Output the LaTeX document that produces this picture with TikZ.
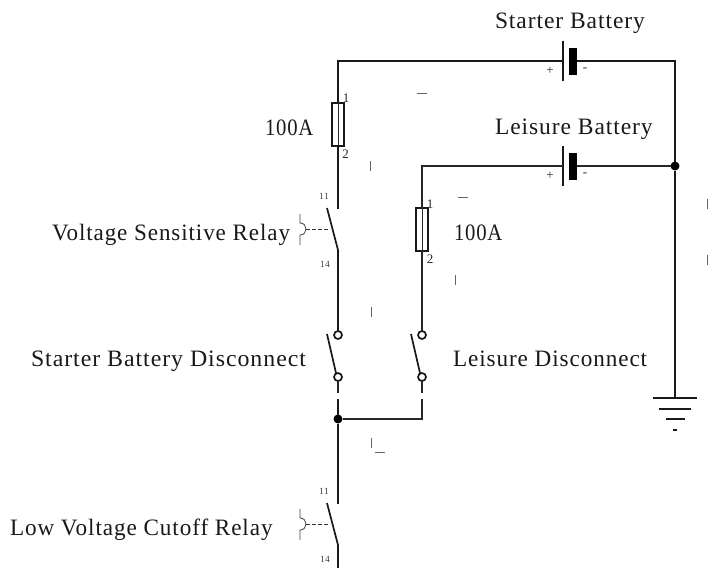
\documentclass[tikz,border=0pt]{standalone}
\usepackage{fontspec}
\setmainfont[LetterSpace=4]{Liberation Serif}
\usetikzlibrary{positioning,calc}

\begin{document}
\begin{tikzpicture}[x=1pt,y=1pt]
    \useasboundingbox (0,0) rectangle (709,-573);
    \tikzstyle{every node}=[inner sep=0,outer sep=0]
    \tikzstyle{label} = [anchor=base west,font=\fontsize{23.5}{25}\selectfont,text=black!90]
    \tikzstyle{pin} = [font=\fontsize{9.5}{10}\selectfont,text=black!75]
    \tikzstyle{pinbig} = [font=\fontsize{13}{14}\selectfont,text=black!85]
    \tikzstyle{wire} = [line width=2.2,black!90]
    \tikzstyle{wirethin} = [line width=1.8,black!85]
    \tikzstyle{blade} = [line width=1.7,black!90]
    \tikzstyle{fuse} = [draw=black!90,line width=1.6,minimum width=12.5,minimum height=43,fill=none]
    \tikzstyle{term} = [circle,draw=black!90,line width=1.7,fill=white,minimum size=8]
    \tikzstyle{dot} = [circle,fill=black,minimum size=9]
    \tikzstyle{plate} = [draw=none,fill=black,minimum width=8,minimum height=27]
    \tikzstyle{stray} = [line width=0.7,black!60]
    \tikzstyle{hook} = [line width=0.8,black!75]

    % feed wires
    \coordinate (corner1) at (338,-61);
    \coordinate (corner2) at (422,-166);
    \coordinate (corner3) at (675,-61);
    \node[fuse] (fuse1) at (338,-124.5) {};
    \node[fuse] (fuse2) at (422,-229.5) {};
    \node[dot] (join1) at (675,-166) {};
    \node[dot] (join2) at (338,-419) {};

    % batteries
    \foreach \name/\y in {bat1/-61,bat2/-166} {
        \coordinate (\name thin) at (563,\y);
        \node[plate] (\name) at (573,\y) {};
        \draw[line width=1.6,black!90] ($(\name thin)+(0,20)$) -- ($(\name thin)+(0,-20)$);
        \node[pinbig] at ($(\name thin)+(-13,-10)$) {+};
        \node[pinbig] at ($(\name thin)+(22,-9)$) {-};
    }
    \draw[wire] (bat1thin) -- (corner1) -- (fuse1.north);
    \draw[wire] (bat1.east) -- (corner3) -- (join1);
    \draw[wirethin] (bat2thin) -- (corner2) -- (fuse2.north);
    \draw[wirethin] (bat2.east) -- (join1);
    \draw[line width=1,black!85] (fuse1.north) -- (fuse1.south);
    \draw[line width=1,black!85] (fuse2.north) -- (fuse2.south);

    % relay contacts
    \foreach \name/\y in {relay1/-209,relay2/-504} {
        \coordinate (\name a) at (338,\y);
        \coordinate (\name b) at (338,\y-41);
        \coordinate (\name c) at (327,\y+1);
        \coordinate (\name d) at (330,\y-20);
        \coordinate (\name e) at (306,\y-20);
        \draw[blade] (\name c) -- (\name b);
        \draw[line width=0.9,black!80,dash pattern=on 4 off 2] (\name e) -- (\name d);
        \draw[hook] ($(\name e)+(-6,15)$) -- ($(\name e)+(-6,6)$) .. controls ($(\name e)+(2,6)$) and ($(\name e)+(2,-6)$) .. ($(\name e)+(-6,-6)$) -- ($(\name e)+(-6,-16)$);
        \node[pin] at ($(\name a)+(-14,13)$) {11};
        \node[pin] at ($(\name a)+(-13,-55)$) {14};
    }
    \draw[wire] (fuse1.south) -- (relay1a);

    % disconnect switches
    \foreach \name/\x in {iso1/338,iso2/422} {
        \node[term] (\name a) at (\x,-335) {};
        \node[term] (\name b) at (\x,-377) {};
        \coordinate (\name c) at (\x-11,-334);
        \coordinate (\name d) at (\x-2,-373);
        \coordinate (\name e) at (\x,-393);
        \coordinate (\name f) at (\x,-399);
        \draw[blade] (\name c) -- (\name d);
        \draw[wirethin] (\name b) -- (\name e);
    }
    \draw[wire] (relay1b) -- (iso1a);
    \draw[wirethin] (fuse2.south) -- (iso2a);
    \draw[wire] (iso1f) -- (join2) -- (relay2a);
    \draw[wirethin] (iso2f) |- (join2);
    \coordinate (wireend) at (338,-568);
    \draw[wire] (relay2b) -- (wireend);

    % ground
    \coordinate (gnd) at (675,-398);
    \draw[wire] (join1) -- (gnd);
    \foreach \y/\w in {-398/22,-409/16,-419/9.5,-430/2} {
        \draw[line width=1.6,black!90] (675-\w,\y) -- (675+\w,\y);
    }

    % pin numbers
    \node[pinbig] at (346,-98) {1};
    \node[pinbig] at (345.5,-154) {2};
    \node[pinbig] at (430,-204) {1};
    \node[pinbig] at (430,-259) {2};

    % labels
    \node[label] at (495,-28) {Starter Battery};
    \node[label] at (265,-135) {\scalebox{.88}[1]{100A}};
    \node[label] at (495,-134) {Leisure Battery};
    \node[label] at (454,-240) {\scalebox{.88}[1]{100A}};
    \node[label] at (52,-240) {\scalebox{.98}[1]{Voltage Sensitive Relay}};
    \node[label] at (31,-366) {\scalebox{1.015}[1]{Starter Battery Disconnect}};
    \node[label] at (453,-366) {\scalebox{.985}[1]{Leisure Disconnect}};
    \node[label] at (10,-535) {\scalebox{.985}[1]{Low Voltage Cutoff Relay}};

    % small marks
    \foreach \x/\y in {370.5/-166,455/-280,371/-312,707/-204,707/-260,371/-443} {
        \draw[stray] (\x,\y+5) -- (\x,\y-5);
    }
    \foreach \x/\y in {421.5/-93,463/-197,379.5/-452} {
        \draw[stray] (\x-5,\y) -- (\x+5,\y);
    }
\end{tikzpicture}
\end{document}
